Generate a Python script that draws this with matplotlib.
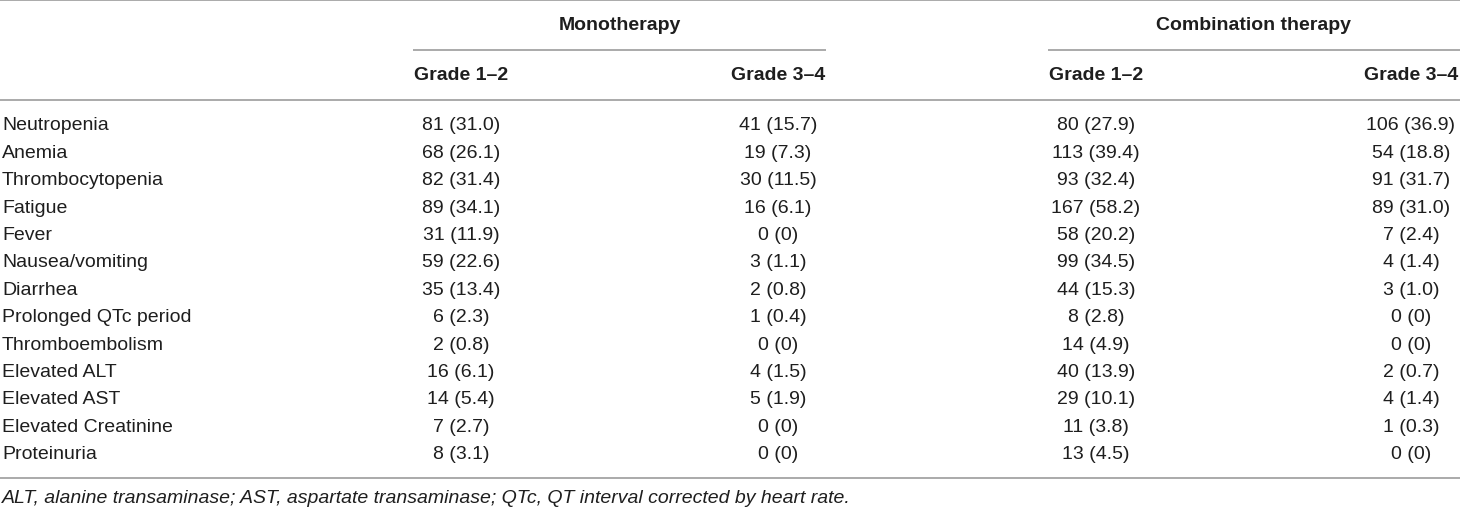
import matplotlib
matplotlib.use("Agg")
import matplotlib.pyplot as plt

# ---------------- data ----------------
events = ["Neutropenia", "Anemia", "Thrombocytopenia", "Fatigue", "Fever",
          "Nausea/vomiting", "Diarrhea", "Prolonged QTc period", "Thromboembolism",
          "Elevated ALT", "Elevated AST", "Elevated Creatinine", "Proteinuria"]
mono_g12_n = [81, 68, 82, 89, 31, 59, 35, 6, 2, 16, 14, 7, 8]
mono_g12_pct = [31.0, 26.1, 31.4, 34.1, 11.9, 22.6, 13.4, 2.3, 0.8, 6.1, 5.4, 2.7, 3.1]
mono_g34_n = [41, 19, 30, 16, 0, 3, 2, 1, 0, 4, 5, 0, 0]
mono_g34_pct = [15.7, 7.3, 11.5, 6.1, 0, 1.1, 0.8, 0.4, 0, 1.5, 1.9, 0, 0]
combo_g12_n = [80, 113, 93, 167, 58, 99, 44, 8, 14, 40, 29, 11, 13]
combo_g12_pct = [27.9, 39.4, 32.4, 58.2, 20.2, 34.5, 15.3, 2.8, 4.9, 13.9, 10.1, 3.8, 4.5]
combo_g34_n = [106, 54, 91, 89, 7, 4, 3, 0, 0, 2, 4, 1, 0]
combo_g34_pct = [36.9, 18.8, 31.7, 31.0, 2.4, 1.4, 1.0, 0, 0, 0.7, 1.4, 0.3, 0]
groups = ["Monotherapy", "Combination therapy"]
grades = ["Grade 1\u20132", "Grade 3\u20134", "Grade 1\u20132", "Grade 3\u20134"]
footnote = ("ALT, alanine transaminase; AST, aspartate transaminase; "
            "QTc, QT interval corrected by heart rate.")

def fmt(n, p):
    return f"{n} (0)" if p == 0 else f"{n} ({p:.1f})"

columns = [
    [fmt(n, p) for n, p in zip(mono_g12_n, mono_g12_pct)],
    [fmt(n, p) for n, p in zip(mono_g34_n, mono_g34_pct)],
    [fmt(n, p) for n, p in zip(combo_g12_n, combo_g12_pct)],
    [fmt(n, p) for n, p in zip(combo_g34_n, combo_g34_pct)],
]

# ---------------- layout ----------------
W, H = 1460, 510
fig = plt.figure(figsize=(W / 100, H / 100), dpi=100)
ax = fig.add_axes([0, 0, 1, 1])
ax.set_xlim(0, W)
ax.set_ylim(H, 0)
ax.axis("off")

FAM = ["Liberation Sans", "DejaVu Sans"]
FS = 14
TXT = "#1e1e1e"
LINE = "#9c9c9c"
LW = 1.2

col_centers = [461, 778, 1096, 1411]
group_spans = [(413, 826), (1048, 1460)]
row0, row_step = 126, 27.4

# rules
for y in (0.8, 101, 479):
    ax.plot([0, W], [y, y], color=LINE, lw=LW, solid_capstyle="butt")
for (x0, x1) in group_spans:
    ax.plot([x0, x1], [51, 51], color=LINE, lw=LW, solid_capstyle="butt")

# headers
for g, (x0, x1) in zip(groups, group_spans):
    ax.text((x0 + x1) / 2, 26, g, ha="center", va="center", fontsize=FS,
            fontweight="bold", family=FAM, color=TXT)
for gr, xc in zip(grades, col_centers):
    ax.text(xc, 75, gr, ha="center", va="center", fontsize=FS,
            fontweight="bold", family=FAM, color=TXT)

# body
for i, ev in enumerate(events):
    y = row0 + i * row_step
    ax.text(2, y, ev, ha="left", va="center", fontsize=FS, family=FAM, color=TXT)
    for col, xc in zip(columns, col_centers):
        ax.text(xc, y, col[i], ha="center", va="center", fontsize=FS,
                family=FAM, color=TXT)

ax.text(2, 499, footnote, ha="left", va="center", fontsize=FS,
        style="italic", family=FAM, color=TXT)

fig.savefig("out.png", dpi=100)
